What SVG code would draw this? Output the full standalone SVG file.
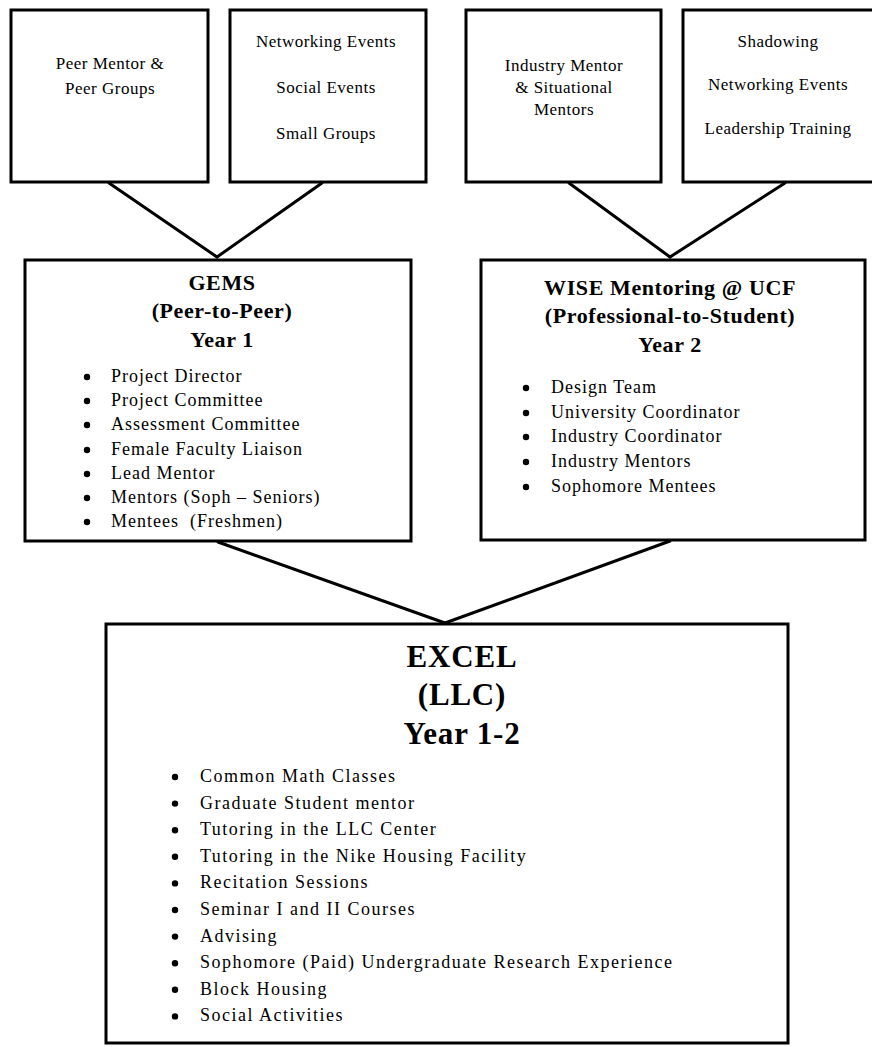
<svg xmlns="http://www.w3.org/2000/svg" width="872" height="1047" viewBox="0 0 872 1047">
<style>
.box{fill:#fff;stroke:#000;stroke-width:3}
.con line{stroke:#000;stroke-width:3;stroke-linecap:round}
text{font-family:"Liberation Serif","Times New Roman",serif;fill:#000}
.top{font-size:17px;text-anchor:middle;letter-spacing:0.5px}
.ttl{font-size:22px;font-weight:bold;text-anchor:middle;letter-spacing:0.6px}
.big{font-size:31px;font-weight:bold;text-anchor:middle;letter-spacing:0.8px}
.li{font-size:18px;letter-spacing:1px}
.li2{font-size:18px;letter-spacing:1.5px}
.dot{fill:#000}
</style>
<rect width="872" height="1047" fill="#fff"/>
<g class="con" id="connectors">
<line x1="109" y1="183" x2="217" y2="257"/>
<line x1="322" y1="183" x2="217" y2="257"/>
<line x1="569" y1="183" x2="670" y2="257"/>
<line x1="785" y1="183" x2="670" y2="257"/>
<line x1="218" y1="542" x2="445" y2="623"/>
<line x1="670" y1="541" x2="445" y2="623"/>
</g>
<g id="peer-mentor">
<rect class="box" x="11" y="10" width="197" height="172"/>
<text class="top" x="110" y="69">Peer Mentor &amp;</text>
<text class="top" x="110" y="94">Peer Groups</text>
</g>
<g id="gems-events">
<rect class="box" x="230" y="10" width="196" height="172"/>
<text class="top" x="326" y="47">Networking Events</text>
<text class="top" x="326" y="93">Social Events</text>
<text class="top" x="326" y="139">Small Groups</text>
</g>
<g id="industry-mentor">
<rect class="box" x="466" y="10" width="195" height="172"/>
<text class="top" x="564" y="71">Industry Mentor</text>
<text class="top" x="564" y="93">&amp; Situational</text>
<text class="top" x="564" y="115">Mentors</text>
</g>
<g id="wise-events">
<rect class="box" x="683" y="10" width="192" height="172"/>
<text class="top" x="778" y="47">Shadowing</text>
<text class="top" x="778" y="90">Networking Events</text>
<text class="top" x="778" y="134">Leadership Training</text>
</g>
<g id="gems">
<rect class="box" x="25" y="260" width="386" height="281"/>
<text class="ttl" x="222" y="290">GEMS</text>
<text class="ttl" x="222" y="318">(Peer-to-Peer)</text>
<text class="ttl" x="222" y="347">Year 1</text>
<g class="dot">
<circle cx="87" cy="377" r="3.2"/><circle cx="87" cy="401" r="3.2"/><circle cx="87" cy="425" r="3.2"/><circle cx="87" cy="450" r="3.2"/><circle cx="87" cy="474" r="3.2"/><circle cx="87" cy="498" r="3.2"/><circle cx="87" cy="522" r="3.2"/>
</g>
<text class="li" x="111" y="382">Project Director</text>
<text class="li" x="111" y="406">Project Committee</text>
<text class="li" x="111" y="430">Assessment Committee</text>
<text class="li" x="111" y="455">Female Faculty Liaison</text>
<text class="li" x="111" y="479">Lead Mentor</text>
<text class="li" x="111" y="503">Mentors (Soph – Seniors)</text>
<text class="li" x="111" y="527" xml:space="preserve">Mentees  (Freshmen)</text>
</g>
<g id="wise">
<rect class="box" x="481" y="260" width="384" height="280"/>
<text class="ttl" x="670" y="295">WISE Mentoring @ UCF</text>
<text class="ttl" x="670" y="323">(Professional-to-Student)</text>
<text class="ttl" x="670" y="352">Year 2</text>
<g class="dot">
<circle cx="526" cy="388" r="3.2"/><circle cx="526" cy="413" r="3.2"/><circle cx="526" cy="437" r="3.2"/><circle cx="526" cy="462" r="3.2"/><circle cx="526" cy="487" r="3.2"/>
</g>
<text class="li" x="551" y="393">Design Team</text>
<text class="li" x="551" y="418">University Coordinator</text>
<text class="li" x="551" y="442">Industry Coordinator</text>
<text class="li" x="551" y="467">Industry Mentors</text>
<text class="li" x="551" y="492">Sophomore Mentees</text>
</g>
<g id="excel">
<rect class="box" x="106" y="624" width="682" height="419"/>
<text class="big" x="462" y="667">EXCEL</text>
<text class="big" x="462" y="705">(LLC)</text>
<text class="big" x="462" y="744">Year 1-2</text>
<g class="dot">
<circle cx="175" cy="777" r="3.2"/><circle cx="175" cy="803.6" r="3.2"/><circle cx="175" cy="830.2" r="3.2"/><circle cx="175" cy="856.8" r="3.2"/><circle cx="175" cy="883.4" r="3.2"/><circle cx="175" cy="910" r="3.2"/><circle cx="175" cy="936.6" r="3.2"/><circle cx="175" cy="963.2" r="3.2"/><circle cx="175" cy="989.8" r="3.2"/><circle cx="175" cy="1016.4" r="3.2"/>
</g>
<text class="li2" x="200" y="782">Common Math Classes</text>
<text class="li2" x="200" y="808.6">Graduate Student mentor</text>
<text class="li2" x="200" y="835.2">Tutoring in the LLC Center</text>
<text class="li2" x="200" y="861.8">Tutoring in the Nike Housing Facility</text>
<text class="li2" x="200" y="888.4">Recitation Sessions</text>
<text class="li2" x="200" y="915">Seminar I and II Courses</text>
<text class="li2" x="200" y="941.6">Advising</text>
<text class="li2" x="200" y="968.2">Sophomore (Paid) Undergraduate Research Experience</text>
<text class="li2" x="200" y="994.8">Block Housing</text>
<text class="li2" x="200" y="1021.4">Social Activities</text>
</g>
</svg>
